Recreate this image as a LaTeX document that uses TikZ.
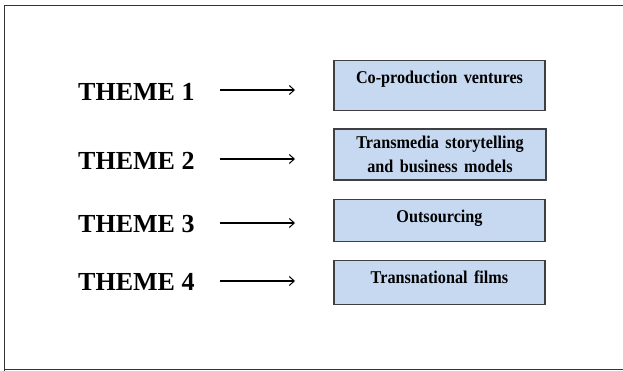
\documentclass[tikz,border=0pt]{standalone}
\usepackage{fontspec}
\setmainfont{Liberation Serif}
\usetikzlibrary{arrows.meta}
\definecolor{boxfill}{HTML}{C6D9F1}
\definecolor{boxline}{HTML}{3F3F3F}
\tikzset{
  theme/.style={font=\fontsize{26}{28}\selectfont\bfseries, inner sep=0pt, anchor=west},
  box/.style={draw=boxline, line width=1.2pt, fill=boxfill, inner sep=0pt},
  boxtext/.style={font=\fontsize{18}{24}\selectfont\bfseries, align=center, inner sep=0pt, anchor=north, xscale=0.9, transform shape},
  arr/.style={line width=1.1pt, -{Straight Barb[length=5pt,width=9pt,line width=1pt]}},
}
\newcommand{\gap}{\hspace{0.4em}}
\begin{document}
\begin{tikzpicture}[x=1pt,y=-1pt]
\useasboundingbox (0,0) rectangle (623,371);
\draw[line width=1.5pt, black!80] (4.5,371.5) -- (4.5,5.5) -- (623.5,5.5);
\draw[line width=1.5pt, black!80] (4.5,369.5) -- (623.5,369.5);

\node[theme] (th1) at (78,92) {THEME 1};
\node[theme] (th2) at (78,161) {THEME 2};
\node[theme] (th3) at (78,224) {THEME 3};
\node[theme] (th4) at (78,282) {THEME 4};

\node[box, minimum width=211pt, minimum height=50pt] (b1) at (439.5,85.5) {};
\node[box, minimum width=212pt, minimum height=51pt] (b2) at (440,154.5) {};
\node[box, minimum width=211pt, minimum height=42pt] (b3) at (439.5,220.5) {};
\node[box, minimum width=211pt, minimum height=44pt] (b4) at (439.5,282.5) {};

\node[boxtext] (t1) at ([yshift=-11pt]b1.north) {Co-production\gap ventures};
\node[boxtext] (t2) at ([yshift=-7pt]b2.north) {Transmedia\gap storytelling\\and\gap business\gap models};
\node[boxtext] (t3) at ([yshift=-11pt]b3.north) {Outsourcing};
\node[boxtext] (t4) at ([yshift=-11pt]b4.north) {Transnational\gap films};

\coordinate (a1s) at (220,90); \coordinate (a1e) at (295,90);
\coordinate (a2s) at (220,159); \coordinate (a2e) at (295,159);
\coordinate (a3s) at (220,223); \coordinate (a3e) at (295,223);
\coordinate (a4s) at (220,281); \coordinate (a4e) at (295,281);
\draw[arr] (a1s) -- (a1e);
\draw[arr] (a2s) -- (a2e);
\draw[arr] (a3s) -- (a3e);
\draw[arr] (a4s) -- (a4e);
\end{tikzpicture}
\end{document}
